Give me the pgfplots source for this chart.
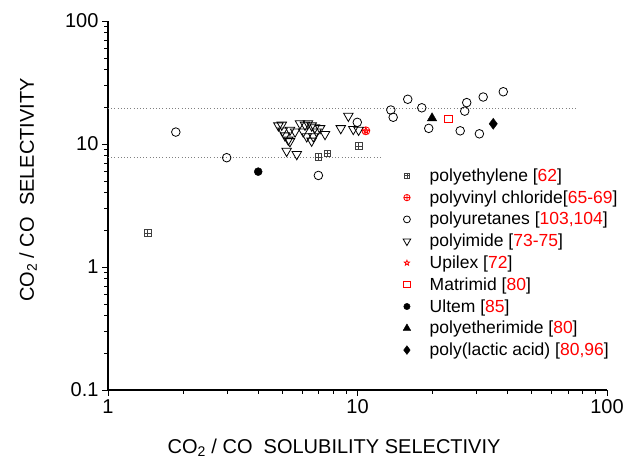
\documentclass[border=0pt]{standalone}
\usepackage{fontspec}
\setmainfont{Liberation Sans}
\usepackage{pgfplots}
\pgfplotsset{compat=1.18}
\usetikzlibrary{plotmarks}

% open square with a cross, for polyethylene
\pgfdeclareplotmark{boxplus}{%
  \pgfpathrectangle{\pgfpoint{-\pgfplotmarksize}{-\pgfplotmarksize}}{\pgfpoint{2\pgfplotmarksize}{2\pgfplotmarksize}}%
  \pgfpathmoveto{\pgfpoint{-\pgfplotmarksize}{0pt}}\pgfpathlineto{\pgfpoint{\pgfplotmarksize}{0pt}}%
  \pgfpathmoveto{\pgfpoint{0pt}{-\pgfplotmarksize}}\pgfpathlineto{\pgfpoint{0pt}{\pgfplotmarksize}}%
  \pgfusepathqstroke}
% open downward triangle, for polyimide
\pgfdeclareplotmark{itriangle}{%
  \pgfpathmoveto{\pgfpoint{0pt}{-\pgfplotmarksize}}%
  \pgfpathlineto{\pgfpoint{0.866\pgfplotmarksize}{0.5\pgfplotmarksize}}%
  \pgfpathlineto{\pgfpoint{-0.866\pgfplotmarksize}{0.5\pgfplotmarksize}}%
  \pgfpathclose\pgfusepathqstroke}
% open five-pointed star, for Upilex
\pgfdeclareplotmark{ostar}{%
  \pgfpathmoveto{\pgfpoint{0pt}{\pgfplotmarksize}}%
  \pgfpathlineto{\pgfpoint{-0.247\pgfplotmarksize}{0.340\pgfplotmarksize}}%
  \pgfpathlineto{\pgfpoint{-0.951\pgfplotmarksize}{0.309\pgfplotmarksize}}%
  \pgfpathlineto{\pgfpoint{-0.399\pgfplotmarksize}{-0.130\pgfplotmarksize}}%
  \pgfpathlineto{\pgfpoint{-0.588\pgfplotmarksize}{-0.809\pgfplotmarksize}}%
  \pgfpathlineto{\pgfpoint{0pt}{-0.420\pgfplotmarksize}}%
  \pgfpathlineto{\pgfpoint{0.588\pgfplotmarksize}{-0.809\pgfplotmarksize}}%
  \pgfpathlineto{\pgfpoint{0.399\pgfplotmarksize}{-0.130\pgfplotmarksize}}%
  \pgfpathlineto{\pgfpoint{0.951\pgfplotmarksize}{0.309\pgfplotmarksize}}%
  \pgfpathlineto{\pgfpoint{0.247\pgfplotmarksize}{0.340\pgfplotmarksize}}%
  \pgfpathclose\pgfusepathqstroke}

\begin{document}
\begin{tikzpicture}
\begin{axis}[
  xmode=log, ymode=log,
  scale only axis,
  width=499pt, height=369pt,
  xmin=1, xmax=100, ymin=0.1, ymax=100,
  clip=false,
  axis x line*=bottom, axis y line*=left,
  axis line style={black, line width=1.1pt},
  tick align=outside,
  major tick length=6pt, minor tick length=4pt,
  tick style={black, line width=0.9pt},
  xtick={1,10,100}, xticklabels={1,10,100},
  ytick={0.1,1,10,100}, yticklabels={0.1,1,10,100},
  tick label style={font=\fontsize{20}{24}\selectfont},
  xlabel={CO\textsubscript{2} / CO\ \ SOLUBILITY SELECTIVIY},
  ylabel={CO\textsubscript{2} / CO\ \ SELECTIVITY},
  label style={font=\fontsize{20}{24}\selectfont},
  xlabel style={at={(axis description cs:0.453,-0.171)}, anchor=base},
  ylabel style={at={(axis description cs:-0.160,0.542)}, anchor=center},
  legend style={draw=none, fill=none, at={(axis description cs:0.585,0.611)},
    anchor=north west, font=\fontsize{17.5}{20}\selectfont,
    row sep=3.6pt, /tikz/every odd column/.append style={column sep=17pt}},
  legend cell align=left,
  legend image post style={scale=0.8},
]
% dotted guide lines
\addplot[mark=none, gray, line width=1pt, dash pattern=on 1pt off 2.2pt, forget plot] coordinates {(1,19.6) (75,19.6)};
\addplot[mark=none, gray, line width=1pt, dash pattern=on 1pt off 2.2pt, forget plot] coordinates {(1,7.7) (12.6,7.7)};

\addplot[only marks, mark=boxplus, mark size=3.4pt, black!75, line width=0.8pt] coordinates {
(1.44,1.88) (6.97,7.8) (7.57,8.4) (10.1,9.64)
};
\addlegendentry{polyethylene [\textcolor{red}{62}]}

\addplot[only marks, mark=oplus, mark size=4pt, red, line width=0.8pt] coordinates {
(10.8,12.8)
};
\addlegendentry{polyvinyl chloride[\textcolor{red}{65-69}]}

\addplot[only marks, mark=o, mark size=4.3pt, black, line width=0.8pt] coordinates {
(1.87,12.5) (2.99,7.74) (6.97,5.55) (9.98,15.0) (13.6,18.9) (13.9,16.5)
(15.9,23.1) (18.1,19.7) (19.3,13.4) (27.4,21.7) (26.9,18.5) (25.8,12.8)
(31.9,24.1) (38.4,26.6) (30.8,12.1)
};
\addlegendentry{polyuretanes [\textcolor{red}{103,104}]}

\addplot[only marks, mark=itriangle, mark size=5.5pt, black, line width=0.8pt] coordinates {
(4.82,14.1) (4.97,14.3) (5.01,12.8) (5.12,11.7) (5.28,10.8) (5.20,8.77)
(5.71,8.25) (5.88,14.7) (6.16,14.3) (5.62,12.6) (6.06,12.6) (6.26,11.5)
(6.55,14.1) (6.65,11.5) (6.86,12.6) (7.08,13.4) (7.41,12.0) (6.55,10.6)
(5.36,13.0) (6.33,14.7) (6.75,13.6) (5.36,10.5)
(9.19,16.9) (8.57,13.4) (9.62,13.2) (10.1,13.0)
};
\addlegendentry{polyimide [\textcolor{red}{73-75}]}

\addplot[only marks, mark=ostar, mark size=3.4pt, red, line width=0.8pt] coordinates {
(10.8,12.8)
};
\addlegendentry{Upilex [\textcolor{red}{72}]}

\addplot[only marks, mark=square, mark size=3.8pt, red, line width=0.8pt] coordinates {
(23.1,16.0)
};
\addlegendentry{Matrimid [\textcolor{red}{80}]}

\addplot[only marks, mark=*, mark size=4pt, black] coordinates {
(4.0,5.96)
};
\addlegendentry{Ultem [\textcolor{red}{85}]}

\addplot[only marks, mark=triangle*, mark size=5.5pt, black] coordinates {
(19.9,16.2)
};
\addlegendentry{polyetherimide [\textcolor{red}{80}]}

\addplot[only marks, mark=diamond*, mark size=5.5pt, black] coordinates {
(35.0,14.6)
};
\addlegendentry{poly(lactic acid) [\textcolor{red}{80,96}]}
\end{axis}
\path (-108pt,-70pt) (521pt,390pt);
\end{tikzpicture}
\end{document}
